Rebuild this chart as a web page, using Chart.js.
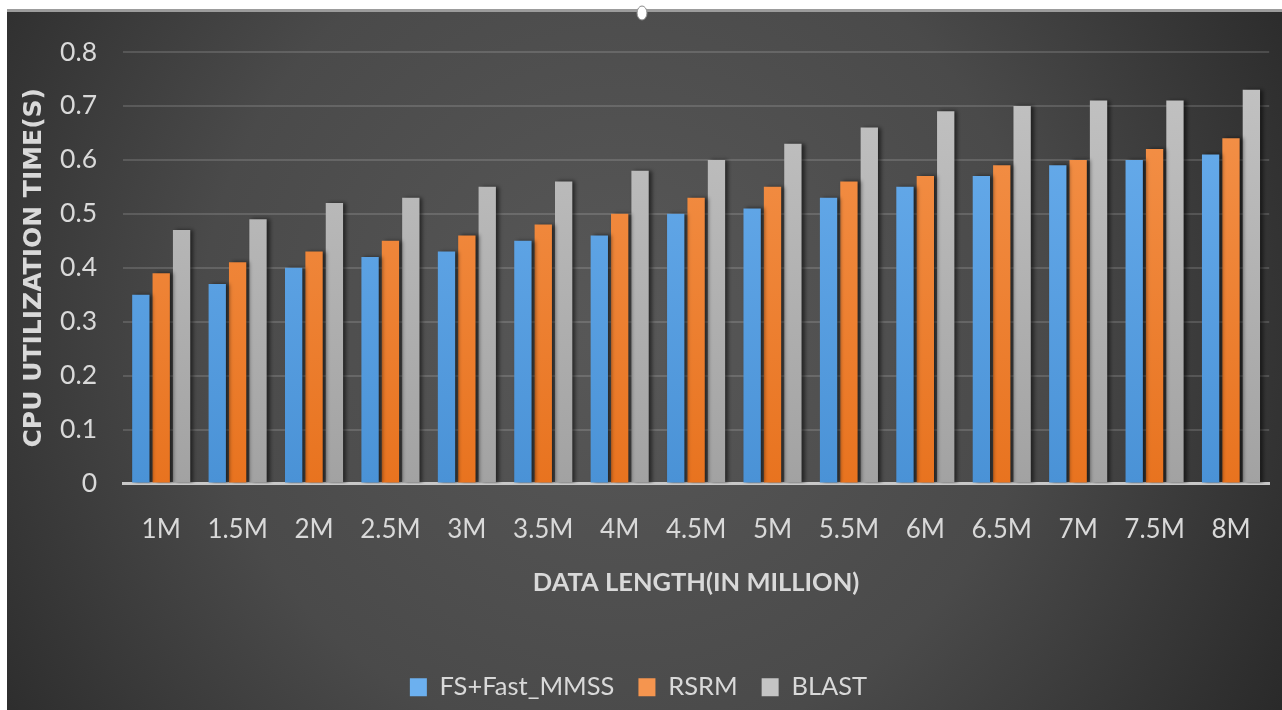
<!DOCTYPE html>
<html>
<head>
<meta charset="utf-8">
<script src="https://cdn.jsdelivr.net/npm/chart.js@4.4.0/dist/chart.umd.min.js"></script>
<style>
  html, body { margin: 0; padding: 0; background: #ffffff; }
  #wrap { width: 1282px; height: 710px; position: relative; }
  canvas { display: block; }
</style>
</head>
<body>
<div id="wrap"><canvas id="c" width="1282" height="710"></canvas></div>
<script>
// ---- data ----
const categories = ["1M", "1.5M", "2M", "2.5M", "3M", "3.5M", "4M", "4.5M", "5M", "5.5M", "6M", "6.5M", "7M", "7.5M", "8M"];
const seriesNames = ["FS+Fast_MMSS", "RSRM", "BLAST"];
const fsFastMmss = [0.35, 0.37, 0.40, 0.42, 0.43, 0.45, 0.46, 0.50, 0.51, 0.53, 0.55, 0.57, 0.59, 0.60, 0.61];
const rsrm       = [0.39, 0.41, 0.43, 0.45, 0.46, 0.48, 0.50, 0.53, 0.55, 0.56, 0.57, 0.59, 0.60, 0.62, 0.64];
const blast      = [0.47, 0.49, 0.52, 0.53, 0.55, 0.56, 0.58, 0.60, 0.63, 0.66, 0.69, 0.70, 0.71, 0.71, 0.73];
const yTicks = [0, 0.1, 0.2, 0.3, 0.4, 0.5, 0.6, 0.7, 0.8];
const xTitle = "DATA LENGTH(IN MILLION)";
const yTitle = "CPU UTILIZATION TIME(S)";

// ---- styles ----
const FONT = "Lato, 'Open Sans', sans-serif";
const TEXT = "#d9d9d9";
const palettes = [
  ["#6cb0ef", "#4a92d6"],
  ["#f5954f", "#e8731f"],
  ["#c4c4c4", "#a2a2a2"]
];

function gradFor(idx) {
  return function (ctx) {
    const chart = ctx.chart;
    const area = chart.chartArea;
    if (!area) return palettes[idx][1];
    const g = chart.ctx.createLinearGradient(0, area.top, 0, area.bottom);
    g.addColorStop(0, palettes[idx][0]);
    g.addColorStop(1, palettes[idx][1]);
    return g;
  };
}

const bgPlugin = {
  id: "bgPlugin",
  beforeDraw(chart) {
    const c = chart.ctx;
    const W = chart.width, H = chart.height;
    c.save();
    c.fillStyle = "#ffffff";
    c.fillRect(0, 0, W, H);
    const rg = c.createRadialGradient(620, 330, 0, 620, 330, 760);
    rg.addColorStop(0, "#585858");
    rg.addColorStop(0.55, "#4a4a4a");
    rg.addColorStop(1, "#2a2a2a");
    c.fillStyle = rg;
    c.fillRect(7, 12, W - 7, H - 12);
    c.fillStyle = "#9c9c9c";
    c.fillRect(7, 9, W - 7, 3);
    c.beginPath();
    c.ellipse(642, 13, 5, 7, 0, 0, Math.PI * 2);
    c.fillStyle = "#ffffff";
    c.fill();
    c.strokeStyle = "#8a8a8a";
    c.lineWidth = 1;
    c.stroke();
    c.restore();
  }
};

const shadowPlugin = {
  id: "shadowPlugin",
  beforeDatasetsDraw(chart) {
    const c = chart.ctx;
    c.save();
    c.shadowColor = "rgba(0,0,0,0.55)";
    c.shadowOffsetX = 3;
    c.shadowOffsetY = 0;
    c.shadowBlur = 4;
  },
  afterDatasetsDraw(chart) {
    chart.ctx.restore();
  }
};

const seriesValues = [fsFastMmss, rsrm, blast];

new Chart(document.getElementById("c"), {
  type: "bar",
  data: {
    labels: categories,
    datasets: seriesNames.map((name, i) => ({
      label: name,
      data: seriesValues[i],
      backgroundColor: gradFor(i),
      borderWidth: 0,
      categoryPercentage: 0.8,
      barPercentage: 0.85
    }))
  },
  options: {
    responsive: false,
    devicePixelRatio: 1,
    animation: false,
    layout: { padding: { left: 7, right: 12, top: 52, bottom: 0 } },
    plugins: {
      tooltip: { enabled: false },
      legend: {
        position: "bottom",
        labels: {
          color: TEXT,
          font: { family: FONT, size: 25.5 },
          boxWidth: 17,
          boxHeight: 18,
          padding: 24,
          generateLabels(chart) {
            return chart.data.datasets.map((ds, i) => ({
              text: ds.label,
              fillStyle: palettes[i][0],
              strokeStyle: palettes[i][0],
              lineWidth: 0,
              fontColor: TEXT,
              datasetIndex: i,
              hidden: false
            }));
          }
        }
      }
    },
    scales: {
      x: {
        grid: { display: false, drawTicks: false },
        border: { display: true, color: "#c8c8c8", width: 3 },
        ticks: { color: TEXT, font: { family: FONT, size: 26 }, padding: 31, maxRotation: 0, autoSkip: false },
        title: {
          display: true,
          text: xTitle,
          color: TEXT,
          font: { family: FONT, size: 25.5, weight: "bold" },
          padding: { top: 10, bottom: 52 }
        },
        afterFit(scale) { scale.height = 167; }
      },
      y: {
        min: 0,
        max: 0.8,
        afterBuildTicks(scale) { scale.ticks = yTicks.map(v => ({ value: v })); },
        grid: { color: "rgba(255,255,255,0.14)", lineWidth: 2, drawTicks: false },
        border: { display: false },
        ticks: {
          color: TEXT,
          font: { family: FONT, size: 26.5 },
          padding: 26,
          callback: (v) => String(v)
        },
        title: {
          display: true,
          text: yTitle,
          color: TEXT,
          font: { family: "'DejaVu Sans', sans-serif", size: 25, weight: "bold" },
          padding: { top: 12, bottom: 10 }
        },
        afterFit(scale) { scale.width = 116; }
      }
    }
  },
  plugins: [bgPlugin, shadowPlugin]
});
</script>
</body>
</html>
